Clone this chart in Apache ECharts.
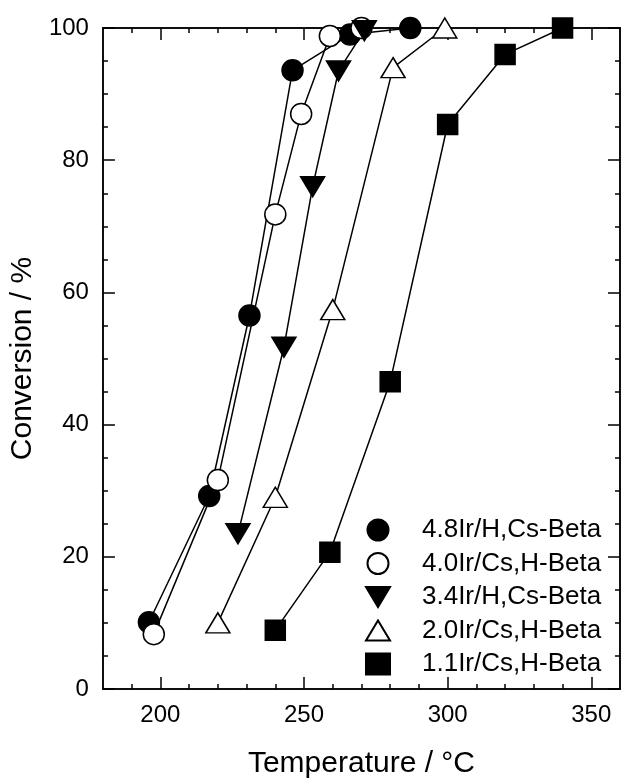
<!DOCTYPE html>
<html>
<head>
<meta charset="utf-8">
<script src="https://cdn.jsdelivr.net/npm/echarts@6/dist/echarts.min.js"></script>
<style>
html,body{margin:0;padding:0;background:#fff;}
#chart{width:621px;height:784px;}
</style>
</head>
<body>
<div id="chart"></div>
<script>
// ---- data ----
var seriesNames = ['4.8Ir/H,Cs-Beta', '4.0Ir/Cs,H-Beta', '3.4Ir/H,Cs-Beta', '2.0Ir/Cs,H-Beta', '1.1Ir/Cs,H-Beta'];
var tempS1 = [196, 217, 231, 246, 266, 287];
var convS1 = [10.1, 29.2, 56.5, 93.6, 99.0, 100];
var tempS2 = [197.7, 220, 240, 249, 259, 270];
var convS2 = [8.3, 31.6, 71.8, 87.0, 98.8, 100];
var tempS3 = [227, 243, 253, 262, 271];
var convS3 = [23.5, 51.7, 76.0, 93.5, 99.6];
var tempS4 = [220, 240, 260, 281, 299];
var convS4 = [10.0, 29.0, 57.4, 94.0, 100];
var tempS5 = [240, 259, 280, 300, 320, 340];
var convS5 = [8.9, 20.7, 46.5, 85.4, 96.0, 100];

var xMajorTicks = [200, 250, 300, 350];
var xMinorTicks = [190, 200, 210, 220, 230, 240, 250, 260, 270, 280, 290, 300, 310, 320, 330, 340, 350];
var yMajorTicks = [0, 20, 40, 60, 80, 100];
var yMinorTicks = [5, 10, 15, 25, 30, 35, 45, 50, 55, 65, 70, 75, 85, 90, 95];

function pairs(xs, ys) { return xs.map(function (x, i) { return [x, ys[i]]; }); }

var downTri = 'path://M0,0 L24,0 L12,20 Z';
var upTri = 'path://M12,0 L24,20 L0,20 Z';

var markers = [
  { symbol: 'circle', size: 21, fill: '#000' },
  { symbol: 'circle', size: 21, fill: '#fff' },
  { symbol: downTri, size: [24, 20], fill: '#000' },
  { symbol: upTri, size: [24, 20], fill: '#fff' },
  { symbol: 'rect', size: 20, fill: '#000' }
];
var datasets = [pairs(tempS1, convS1), pairs(tempS2, convS2), pairs(tempS3, convS3), pairs(tempS4, convS4), pairs(tempS5, convS5)];

var series = datasets.map(function (d, i) {
  return {
    name: seriesNames[i],
    type: 'line',
    xAxisIndex: 0,
    yAxisIndex: 0,
    data: d,
    symbol: markers[i].symbol,
    symbolSize: markers[i].size,
    showAllSymbol: true,
    lineStyle: { color: '#000', width: 1.5 },
    itemStyle: { color: markers[i].fill, borderColor: '#000', borderWidth: 1.5, opacity: 1 },
    emphasis: { disabled: true },
    animation: false
  };
});

var FONT = 'Liberation Sans, Arial, sans-serif';
var axisFont = { fontFamily: FONT, fontSize: 24, color: '#000' };
var lineStyle = { color: '#000', width: 1.5 };

function xAx(pos, ticks, len, labels) {
  return {
    type: 'value', position: pos, min: 180, max: 360,
    axisLine: { show: true, onZero: false, lineStyle: lineStyle },
    axisTick: { show: true, inside: true, length: len, customValues: ticks, lineStyle: lineStyle },
    axisLabel: labels ? Object.assign({ show: true, margin: 14, customValues: xMajorTicks }, axisFont) : { show: false },
    splitLine: { show: false }
  };
}
function yAx(pos, ticks, len, labels) {
  return {
    type: 'value', position: pos, min: 0, max: 100,
    axisLine: { show: true, onZero: false, lineStyle: lineStyle },
    axisTick: { show: true, inside: true, length: len, customValues: ticks, lineStyle: lineStyle },
    axisLabel: labels ? Object.assign({ show: true, margin: 14, customValues: yMajorTicks }, axisFont) : { show: false },
    splitLine: { show: false }
  };
}

var xMain = xAx('bottom', xMajorTicks, 12, true);
xMain.name = 'Temperature / °C';
xMain.nameLocation = 'middle';
xMain.nameGap = 60;
xMain.nameTextStyle = { fontFamily: FONT, fontSize: 30, color: '#000' };
var yMain = yAx('left', yMajorTicks, 12, true);
yMain.name = 'Conversion / %';
yMain.nameLocation = 'middle';
yMain.nameGap = 56;
yMain.nameTextStyle = { fontFamily: FONT, fontSize: 30, color: '#000' };

var option = {
  backgroundColor: '#fff',
  animation: false,
  grid: { left: 88, right: 1, top: 28, bottom: 79, containLabel: false },
  xAxis: [xMain, xAx('bottom', xMinorTicks, 5, false), xAx('top', xMajorTicks, 12, false), xAx('top', xMinorTicks, 5, false)],
  yAxis: [yMain, yAx('left', yMinorTicks, 5, false), yAx('right', yMajorTicks, 12, false), yAx('right', yMinorTicks, 5, false)],
  legend: {
    orient: 'vertical',
    left: 360,
    top: 512,
    itemWidth: 24,
    itemHeight: 21,
    itemGap: 7.5,
    selectedMode: false,
    data: seriesNames.map(function (n, i) {
      return { name: n, icon: markers[i].symbol };
    }),
    textStyle: { fontFamily: FONT, fontSize: 26, color: '#000', padding: [0, 0, 0, 27] }
  },
  series: series
};

var chart = echarts.init(document.getElementById('chart'), null, { renderer: 'canvas' });
chart.setOption(option);
</script>
</body>
</html>
